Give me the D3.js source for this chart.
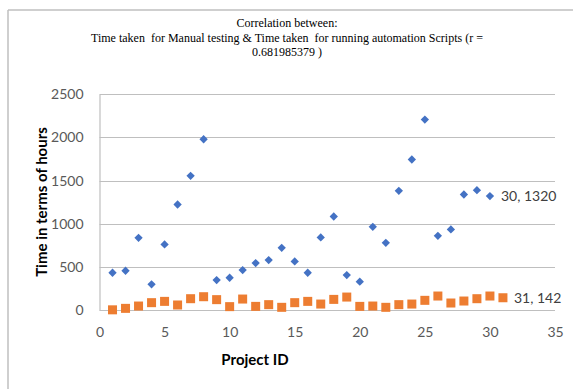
<!DOCTYPE html>
<html>
<head>
<meta charset="utf-8">
<script src="https://cdn.jsdelivr.net/npm/d3@7"></script>
<style>
  body { margin: 0; background: #fff; }
  svg { display: block; }
</style>
</head>
<body>
<svg id="chart"></svg>
<script>
var w = 573;
var h = 389;

// values
var manualIds = d3.range(1, 31);
var manualHours = [432, 455, 837, 297, 760, 1223, 1555, 1979, 347, 374,
                   463, 544, 579, 721, 563, 432, 841, 1084, 405, 328,
                   964, 779, 1381, 1744, 2207, 860, 934, 1339, 1389, 1320];
var scriptIds = d3.range(1, 32);
var scriptHours = [2, 19, 46, 85, 100, 58, 131, 154, 120, 39,
                   127, 42, 62, 31, 85, 100, 69, 123, 150, 42,
                   46, 31, 62, 69, 112, 162, 81, 104, 131, 162, 142];
var xTicks = [0, 5, 10, 15, 20, 25, 30, 35];
var yTicks = [0, 500, 1000, 1500, 2000, 2500];
var titleLines = ['Correlation between:',
    'Time taken  for Manual testing & Time taken  for running automation Scripts (r =',
    '0.681985379 )'];

var svg = d3.select('#chart').attr('width', w).attr('height', h);

// chart frame (only top and left edges show in the picture)
svg.append('line').attr('x1', 8).attr('y1', 10).attr('x2', w).attr('y2', 10)
    .attr('stroke', '#bfbfbf').attr('stroke-width', 1.5);
svg.append('line').attr('x1', 8).attr('y1', 10).attr('x2', 8).attr('y2', h)
    .attr('stroke', '#bfbfbf').attr('stroke-width', 1.5);

var x = d3.scaleLinear().domain([0, 35]).range([99.5, 555]);
var y = d3.scaleLinear().domain([0, 2500]).range([310, 94.3]);

// gridlines
svg.append('g')
    .selectAll('line')
    .data(yTicks)
    .enter()
    .append('line')
    .attr('x1', x(0)).attr('x2', x(35))
    .attr('y1', function(d) { return Math.round(y(d)) + 0.5; })
    .attr('y2', function(d) { return Math.round(y(d)) + 0.5; })
    .attr('stroke', '#bfbfbf')
    .attr('stroke-width', 1.2);

// y axis
var yAxis = svg.append('g')
    .attr('transform', 'translate(' + x(0) + ',0)')
    .call(d3.axisLeft(y).tickValues(yTicks).tickFormat(d3.format('d')).tickSize(0).tickPadding(16));
yAxis.select('.domain').attr('stroke', '#bfbfbf').attr('stroke-width', 1.2);

// x axis
var xAxis = svg.append('g')
    .attr('transform', 'translate(0,' + y(0) + ')')
    .call(d3.axisBottom(x).tickValues(xTicks).tickSize(0).tickPadding(17));
xAxis.select('.domain').remove();

svg.selectAll('.tick text')
    .attr('font-family', 'Lato, "Open Sans", sans-serif')
    .attr('font-size', 14)
    .attr('fill', '#595959');

// series: manual testing time (diamonds)
svg.append('g')
    .selectAll('path')
    .data(manualHours)
    .enter()
    .append('path')
    .attr('d', d3.symbol().type(d3.symbolDiamond2).size(44))
    .attr('transform', function(d, i) {
        return 'translate(' + x(manualIds[i]) + ',' + y(d) + ')';
    })
    .attr('fill', '#4472c4');

// series: automation script time (squares)
svg.append('g')
    .selectAll('rect')
    .data(scriptHours)
    .enter()
    .append('rect')
    .attr('x', function(d, i) { return x(scriptIds[i]) - 4.5; })
    .attr('y', function(d) { return y(d) - 4.5; })
    .attr('width', 9)
    .attr('height', 9)
    .attr('fill', '#ed7d31');

// data labels on the last points
var lastM = manualHours.length - 1;
var lastS = scriptHours.length - 1;
var labels = [
    {id: manualIds[lastM], v: manualHours[lastM]},
    {id: scriptIds[lastS], v: scriptHours[lastS]}
];
svg.append('g')
    .selectAll('text')
    .data(labels)
    .enter()
    .append('text')
    .attr('x', function(d) { return x(d.id) + 11; })
    .attr('y', function(d) { return y(d.v); })
    .attr('dy', '0.35em')
    .attr('font-family', 'Lato, "Open Sans", sans-serif')
    .attr('font-size', 14)
    .attr('fill', '#404040')
    .text(function(d) { return d.id + ', ' + d.v; });

// title
svg.append('g')
    .selectAll('text')
    .data(titleLines)
    .enter()
    .append('text')
    .attr('x', 287)
    .attr('y', function(d, i) { return 27 + i * 14.5; })
    .attr('text-anchor', 'middle')
    .style('white-space', 'pre')
    .attr('font-family', '"Liberation Serif", "Times New Roman", serif')
    .attr('font-size', 12)
    .attr('fill', '#000')
    .text(function(d) { return d; });

// axis titles
svg.append('text')
    .attr('transform', 'translate(42,202) rotate(-90)')
    .attr('text-anchor', 'middle')
    .attr('dy', '0.35em')
    .attr('font-family', 'Lato, "Open Sans", sans-serif')
    .attr('font-weight', 'bold')
    .attr('font-size', 15)
    .attr('fill', '#000')
    .text('Time in terms of hours');

svg.append('text')
    .attr('x', 255)
    .attr('y', 360)
    .attr('text-anchor', 'middle')
    .attr('dy', '0.35em')
    .attr('font-family', 'Lato, "Open Sans", sans-serif')
    .attr('font-weight', 'bold')
    .attr('font-size', 15)
    .attr('fill', '#000')
    .text('Project ID');
</script>
</body>
</html>
